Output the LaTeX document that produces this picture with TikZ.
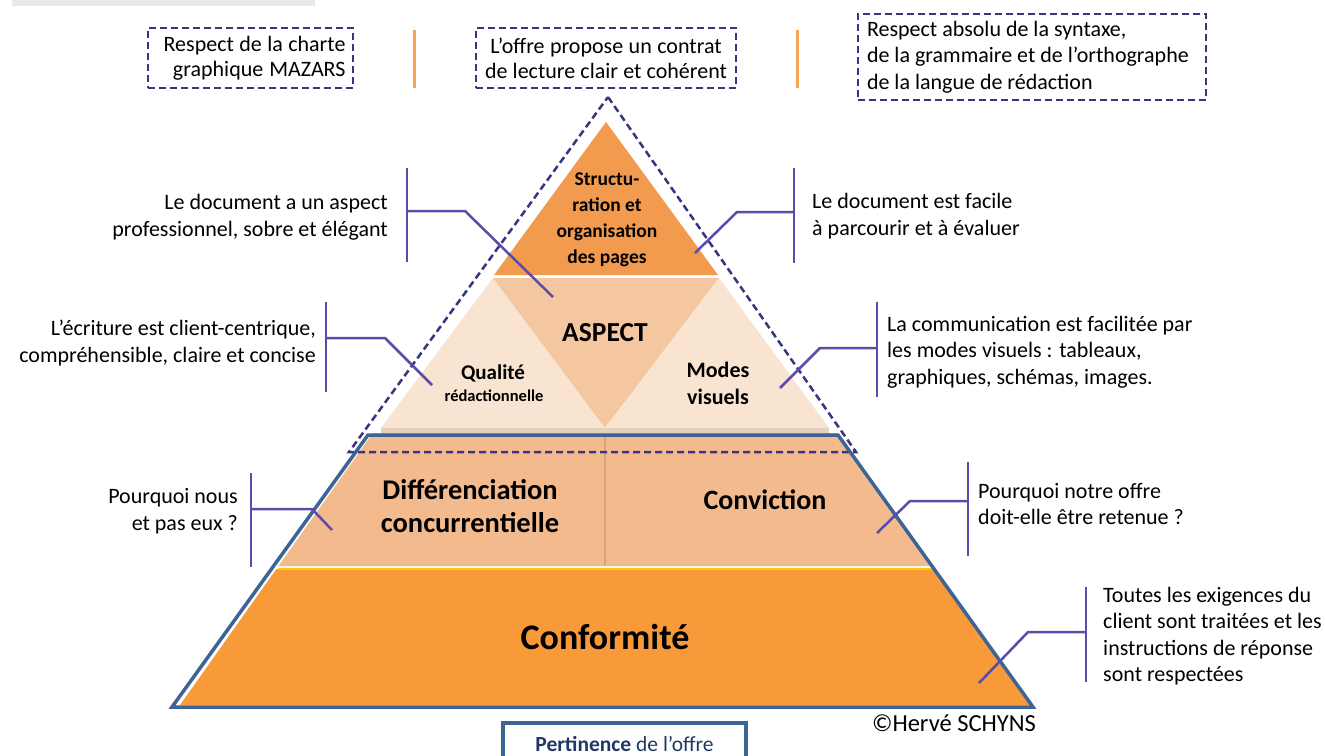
\documentclass[tikz,border=0pt]{standalone}
\usepackage{fontspec}
\setmainfont{Carlito}
\definecolor{dashc}{HTML}{3B3480}
\definecolor{callc}{HTML}{5B4BAA}
\definecolor{bluel}{HTML}{3C6596}
\definecolor{topor}{HTML}{F29B4F}
\definecolor{aspc}{HTML}{F4C7A1}
\definecolor{cream}{HTML}{F8E4D0}
\definecolor{bandc}{HTML}{F3BA8E}
\definecolor{confc}{HTML}{F8993A}
\definecolor{barc}{HTML}{F7A553}
\definecolor{navy}{HTML}{1F3864}
\definecolor{divc}{HTML}{D8A47C}
\newcommand\natsp{\spaceskip=0pt\xspaceskip=0pt\relax}
\tikzset{
  dbox/.style={draw=dashc, line width=2.5pt, dash pattern=on 7pt off 4pt, inner sep=3pt, font=\fontsize{22}{25}\selectfont},
  callout/.style={draw=callc, line width=2.5pt},
  ctext/.style={inner sep=0pt, font=\fontsize{22}{26.5}\selectfont},
  plabel/.style={inner sep=0pt, align=center},
  obar/.style={draw=barc, line width=3pt},
}
\begin{document}
\begin{tikzpicture}[x=1pt,y=-1pt]
\useasboundingbox (0,0) rectangle (1325,755);
\fill[white] (0,0) rectangle (1325,755);
% grey band top-left
\fill[black!9] (12,0) rectangle (315,6);

% pyramid fills
\fill[topor] (606,122) -- (718,275) -- (494,275) -- cycle;
\fill[cream] (493,278) -- (605,428) -- (381,428) -- cycle;
\fill[aspc]  (493,278) -- (719,278) -- (605,428) -- cycle;
\fill[cream] (719,278) -- (829,428) -- (605,428) -- cycle;
\fill[black!8!cream] (381,428) rectangle (829,433);
\fill[bandc] (372.8,433) -- (837.2,433) -- (931.5,566) -- (278.5,566) -- cycle;
\draw[divc, line width=1.5pt] (605,435) -- (605,566);
\fill[confc] (276.4,569) -- (933.6,569) -- (1030,705) -- (180,705) -- cycle;
\draw[yellow!60!orange, line width=1.5pt] (278,569) -- (932,569);

% dashed triangle
\draw[dashc, line width=2.5pt, dash pattern=on 7pt off 4pt] (608,97) -- (856,452) -- (349,452) -- cycle;
% blue outline
\draw[bluel, line width=3.5pt, line join=miter] (368,435) -- (838,435) -- (1033,707) -- (172,707) -- cycle;

% top boxes
\node[dbox, minimum width=205pt, minimum height=60pt, text width=190pt, align=right] (b1) at (250.5,58) {\natsp Respect de la charte\\graphique MAZARS};
\node[dbox, minimum width=260pt, minimum height=60pt, text width=250pt, align=center] (b2) at (606,58) {\natsp L’offre propose un contrat\\de lecture clair et cohérent};
\node[dbox, font=\fontsize{22}{26.5}\selectfont, minimum width=348pt, minimum height=86pt, text width=330pt, align=left] (b3) at (1032,57) {\natsp Respect absolu de la syntaxe,\\de la grammaire et de l’orthographe\\de la langue de rédaction};
\coordinate (o1t) at (414,30); \coordinate (o1b) at (414,88);
\coordinate (o2t) at (797,30); \coordinate (o2b) at (797,88);
\draw[obar] (o1t) -- (o1b);
\draw[obar] (o2t) -- (o2b);

% callouts
\coordinate (c1t) at (407,168); \coordinate (c1b) at (407,262); \coordinate (c1m) at (407,211); \coordinate (c1k) at (465,211); \coordinate (c1e) at (553,297);
\coordinate (c2t) at (326,302); \coordinate (c2b) at (326,392); \coordinate (c2m) at (326,338); \coordinate (c2k) at (385,338); \coordinate (c2e) at (432,385);
\coordinate (c3t) at (794,168); \coordinate (c3b) at (794,263); \coordinate (c3m) at (794,212); \coordinate (c3k) at (737,212); \coordinate (c3e) at (695,253);
\coordinate (c4t) at (877,302); \coordinate (c4b) at (877,397); \coordinate (c4m) at (877,348); \coordinate (c4k) at (820,348); \coordinate (c4e) at (780,388);
\coordinate (c5t) at (251,473); \coordinate (c5b) at (251,567); \coordinate (c5m) at (251,509); \coordinate (c5k) at (312,509); \coordinate (c5e) at (332,530);
\coordinate (c6t) at (968,462); \coordinate (c6b) at (968,556); \coordinate (c6m) at (968,501); \coordinate (c6k) at (910,501); \coordinate (c6e) at (877,533);
\coordinate (c7t) at (1086,587); \coordinate (c7b) at (1086,682); \coordinate (c7m) at (1086,632); \coordinate (c7k) at (1028,632); \coordinate (c7e) at (979,683);
\foreach \i in {1,...,7}{
  \draw[callout] (c\i t) -- (c\i b);
  \draw[callout] (c\i m) -- (c\i k) -- (c\i e);
}

% callout texts
\node[ctext, anchor=east, align=right] (t1) at (388,217) {Le document a un aspect\\professionnel, sobre et élégant};
\node[ctext, anchor=east, align=right] (t2) at (316,343) {L’écriture est client-centrique,\\compréhensible, claire et concise};
\node[ctext, anchor=west, align=left] (t3) at (812,216) {Le document est facile\\à parcourir et à évaluer};
\node[ctext, anchor=west, align=left] (t4) at (887,352) {La communication est facilitée par\\les modes visuels : tableaux,\\graphiques, schémas, images.};
\node[ctext, anchor=east, align=right] (t5) at (238,511) {Pourquoi nous\\et pas eux ?};
\node[ctext, anchor=west, align=left] (t6) at (978,504) {Pourquoi notre offre\\doit-elle être retenue ?};
\node[ctext, anchor=west, align=left] (t7) at (1103,636) {Toutes les exigences du\\client sont traitées et les\\instructions de réponse\\sont respectées};

% pyramid labels
\node[plabel, font=\bfseries\fontsize{19.5}{26}\selectfont] (lstruct) at (607,220) {Structu-\\ration et\\organisation\\des pages};
\node[plabel, font=\bfseries\fontsize{27.5}{30}\selectfont] (laspect) at (605,333) {ASPECT};
\node[plabel, font=\bfseries\fontsize{21}{24}\selectfont] (lqual) at (493,373) {Qualité};
\node[plabel, font=\bfseries\fontsize{16.5}{20}\selectfont] (lredac) at (494,396) {rédactionnelle};
\node[plabel, font=\bfseries\fontsize{22}{27}\selectfont] (lmodes) at (718,383) {Modes\\visuels};
\node[plabel, font=\bfseries\fontsize{28.5}{33}\selectfont] (ldiff) at (470,506) {Différenciation\\concurrentielle};
\node[plabel, font=\bfseries\fontsize{28}{32}\selectfont] (lconv) at (765,500) {Conviction};
\node[plabel, font=\bfseries\fontsize{36}{40}\selectfont] (lconf) at (605,637) {Conformité};

% bottom
\node[ctext, font=\fontsize{24.5}{28}\selectfont] (copy) at (954,723) {©Hervé SCHYNS};
\node[draw=bluel, line width=3.5pt, minimum width=243pt, minimum height=42pt, inner sep=0pt, text=navy, font=\fontsize{21.5}{24}\selectfont] (pert) at (624.5,744) {\textbf{Pertinence} de l’offre};
\end{tikzpicture}
\end{document}
